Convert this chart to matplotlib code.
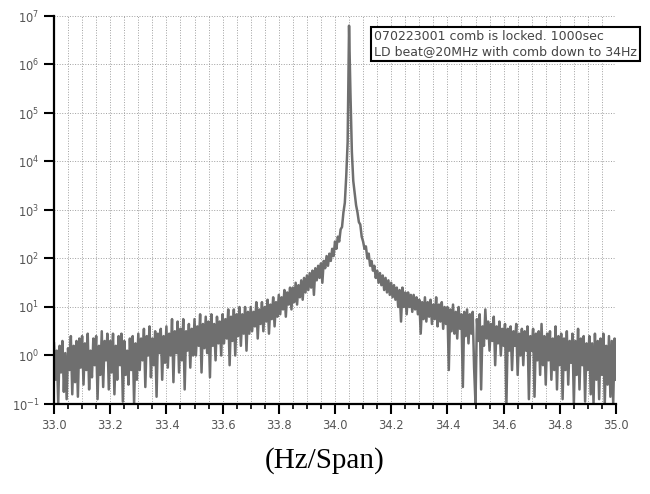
import numpy as np
import matplotlib
matplotlib.use("Agg")
import matplotlib.pyplot as plt
from matplotlib.ticker import MultipleLocator, LogLocator, NullLocator

# beat spectrum: log10(amplitude), one value every 0.005 Hz
F_START, F_STEP = 33.0, 0.005
log_amp = [
    # 33.00 - 33.095
    0.25, -0.5, 0.1, -1.0, 0.2, -0.35, 0.3, -0.75, 0.05, -0.9, 0.15, -0.3, 0.4, -0.8, 0.2, -0.55, 0.3, -0.85, 0.35, -0.25,
    # 33.10
    0.4, -0.6, 0.25, -0.3, 0.45, -0.7, 0.1, -0.45, 0.35, -0.2, 0.4, -0.9, 0.2, -0.4, 0.5, -0.65, 0.3, -0.1, 0.45, -0.7,
    # 33.20
    0.3, -0.35, 0.45, -0.8, 0.2, -0.5, 0.4, -0.2, 0.45, -0.95, 0.3, -0.4, 0.1, -0.6, 0.35, -0.3, 0.4, -1.0, 0.25, -0.5,
    # 33.30
    0.45, -0.3, 0.35, -0.1, 0.55, -0.65, 0.4, 0.0, 0.6, -0.45, 0.35, -0.2, 0.5, -0.85, 0.45, 0.05, 0.55, -0.5, 0.4, -0.15,
    # 33.40
    0.6, -0.25, 0.45, 0.0, 0.75, -0.55, 0.5, 0.05, 0.7, -0.35, 0.55, -0.1, 0.75, -0.7, 0.5, 0.1, 0.65, -0.25, 0.55, 0.0,
    # 33.50
    0.75, 0.0, 0.6, 0.2, 0.85, -0.35, 0.65, 0.15, 0.8, 0.05, 0.7, -0.45, 0.85, 0.2, 0.65, -0.1, 0.8, 0.25, 0.7, 0.0,
    # 33.60
    0.85, 0.25, 0.75, 0.35, 0.95, -0.2, 0.8, 0.3, 0.95, 0.0, 0.85, 0.4, 1.0, 0.2, 0.85, 0.45, 1.0, 0.1, 0.9, 0.45,
    # 33.70
    1.0, 0.5, 0.9, 0.6, 1.1, 0.35, 0.95, 0.65, 1.1, 0.5, 1.0, 0.7, 1.15, 0.45, 1.05, 0.75, 1.2, 0.6, 1.1, 0.8,
    # 33.80
    1.25, 0.85, 1.2, 0.95, 1.35, 0.8, 1.3, 1.05, 1.4, 0.95, 1.4, 1.1, 1.5, 1.05, 1.45, 1.2, 1.55, 1.15, 1.6, 1.3,
    # 33.90
    1.65, 1.35, 1.7, 1.4, 1.75, 1.25, 1.8, 1.55, 1.85, 1.6, 1.9, 1.5, 1.95, 1.8, 2.05, 1.85, 2.1, 1.95, 2.2, 2.05,
    # 34.00 (peak at 34.05)
    2.35, 2.2, 2.45, 2.35, 2.6, 2.65, 2.95, 3.15, 3.7, 4.4, 6.8, 5.4, 4.2, 3.6, 3.35, 3.1, 2.95, 2.75, 2.7, 2.45,
    # 34.10
    2.35, 2.2, 2.25, 2.0, 2.1, 1.85, 1.95, 1.75, 1.85, 1.6, 1.75, 1.5, 1.7, 1.45, 1.65, 1.35, 1.6, 1.3, 1.55, 1.25,
    # 34.20
    1.5, 1.2, 1.45, 1.15, 1.4, 1.0, 1.35, 0.7, 1.4, 1.0, 1.3, 0.85, 1.3, 1.0, 1.25, 0.9, 1.25, 0.95, 1.2, 0.85,
    # 34.30
    1.15, 0.45, 1.1, 0.75, 1.2, 0.7, 1.1, 0.8, 1.15, 0.65, 1.05, 0.75, 1.2, 0.6, 1.05, 0.7, 1.1, 0.55, 1.0, 0.65,
    # 34.40
    1.0, -0.3, 0.95, 0.5, 1.05, 0.45, 0.9, 0.35, 1.0, 0.55, 0.85, -0.65, 0.9, 0.4, 0.95, 0.25, 0.85, 0.45, 0.9, -0.25,
    # 34.50
    -1.0, 0.75, 0.3, 0.85, -0.7, 0.6, 0.2, 0.95, 0.35, 0.7, 0.1, 0.65, 0.3, 0.8, -0.2, 0.6, 0.25, 0.7, 0.0, 0.55,
    # 34.60
    0.2, 0.65, -1.0, 0.55, 0.1, 0.6, -0.3, 0.5, 0.2, 0.65, -0.4, 0.45, 0.0, 0.55, -0.2, 0.5, 0.1, 0.6, -0.9, 0.4,
    # 34.70
    0.1, 0.55, -0.85, 0.45, -0.1, 0.5, -0.4, 0.65, -0.2, 0.4, -0.6, 0.45, -0.1, 0.5, -0.5, 0.35, -0.3, 0.6, -0.7, 0.4,
    # 34.80
    -0.2, 0.45, -0.9, 0.35, -0.3, 0.5, -0.6, 0.3, -0.15, 0.45, -1.0, 0.3, -0.4, 0.55, -0.7, 0.35, -0.2, 0.4, -0.95, 0.25,
    # 34.90
    -0.3, 0.4, -0.8, 0.25, -1.0, 0.45, -0.5, 0.3, -0.9, 0.35, -0.4, 0.45, -1.0, 0.2, -0.6, 0.4, -0.85, 0.3, -1.0, 0.35,
    # 35.00
    -0.5,
]
info_lines = ["070223001 comb is locked. 1000sec",
              "LD beat@20MHz with comb down to 34Hz"]
x_label = "(Hz/Span)"

freq = F_START + F_STEP * np.arange(len(log_amp))
amp = 10.0 ** np.array(log_amp)

fig = plt.figure(figsize=(6.5, 4.94), dpi=100)
ax = fig.add_axes([54/650, 1-404/494, (616-54)/650, (404-16)/494])

ax.plot(freq, amp, color="#6f6f6f", lw=1.8)
ax.set_yscale("log")
ax.set_xlim(33.0, 35.0)
ax.set_ylim(1e-1, 1e7)

ax.xaxis.set_major_locator(MultipleLocator(0.2))
ax.xaxis.set_minor_locator(MultipleLocator(0.05))
ax.xaxis.set_major_formatter(matplotlib.ticker.FormatStrFormatter("%.1f"))
ax.yaxis.set_major_locator(LogLocator(base=10, numticks=20))
ax.yaxis.set_minor_locator(NullLocator())

ax.grid(which="major", axis="y", ls=":", color="#a0a0a0", lw=0.7)
ax.grid(which="both", axis="x", ls=":", color="#a0a0a0", lw=0.7)

for s in ("top", "right"):
    ax.spines[s].set_visible(False)
for s in ("left", "bottom"):
    ax.spines[s].set_linewidth(1.6)

ax.tick_params(which="major", length=7, width=1.5, colors="black", labelcolor="#555555", labelsize=8.3)
ax.tick_params(which="minor", length=3.5, width=1.2, colors="black")

fig.text(374/650, 1-44/494, "\n".join(info_lines), fontsize=9, color="#444444",
         va="center", ha="left", linespacing=1.15,
         bbox=dict(boxstyle="square,pad=0.25", fc="white", ec="black", lw=1.5))

fig.text(0.5, 1-461/494, x_label, family="Liberation Serif", fontsize=21,
         ha="center", va="center")

fig.savefig("out.png", dpi=100)
